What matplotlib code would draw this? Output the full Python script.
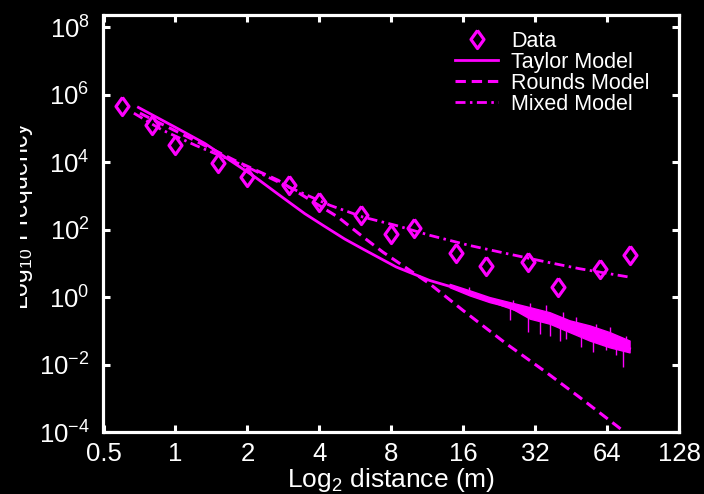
import numpy as np
import matplotlib
matplotlib.use("Agg")
import matplotlib.pyplot as plt
from matplotlib.patches import Rectangle

# ---------------- data ----------------
data_x = [0.6, 0.8, 1, 1.5, 2, 3, 4, 6, 8, 10, 15, 20, 30, 40, 60, 80]
data_logy = [5.66, 5.09, 4.50, 3.96, 3.55, 3.31, 2.82, 2.42, 1.86, 2.04,
             1.31, 0.91, 1.04, 0.29, 0.82, 1.26]

taylor_x = [0.70, 1.0, 1.33, 1.7, 2.15, 2.7, 3.48, 4.2, 5.11, 6.1, 8.4,
            11.6, 16, 23.5, 35.6, 49.1, 79.5]
taylor_logy = [5.62, 5.03, 4.55, 4.04, 3.56, 3.04, 2.47, 2.10, 1.72, 1.42,
               0.89, 0.49, 0.20, -0.25, -0.69, -0.99, -1.53]

# noisy tail of the Taylor model: dense core band
tail_x = [14.05, 17.0, 20.6, 25.0, 30.4, 36.8, 44.6, 54.1, 65.6, 79.5]
tail_upper = [0.39, 0.20, 0.00, -0.15, -0.30, -0.45, -0.69, -0.84, -1.04, -1.29]
tail_lower = [0.29, 0.05, -0.15, -0.30, -0.64, -0.79, -1.04, -1.29, -1.49, -1.64]

# individual spikes of the noisy tail (x, low end, high end)
spike_x = [17.0, 25.0, 25.8, 29.9, 30.4, 33.4, 35.6, 36.8, 40.5, 41.8,
           43.2, 47.6, 49.9, 55.8, 57.7, 63.5, 65.6, 70.0, 74.5, 77.0]
spike_lo = [0.10, -0.69, -0.25, -1.04, -0.40, -1.09, -0.55, -1.14, -1.29,
            -0.75, -1.24, -0.90, -1.49, -1.64, -1.10, -1.58, -1.20, -1.73,
            -2.08, -1.45]
spike_hi = [0.31, -0.20, -0.10, -0.45, -0.18, -0.55, -0.25, -0.60, -0.70,
            -0.45, -0.75, -0.60, -0.95, -1.05, -0.79, -1.20, -0.89, -1.30,
            -1.40, -1.14]

rounds_x = [0.71, 1.83, 2.69, 4.79, 6.10, 7.39, 11.6, 16, 24.3, 35.6, 49.1,
            70, 80]
rounds_logy = [5.45, 4.00, 3.46, 2.37, 1.78, 1.33, 0.39, -0.40, -1.39,
               -2.23, -2.97, -3.81, -4.13]

mixed_x = [0.67, 0.875, 1.21, 2.0, 3.0, 4.43, 6.1, 8.41, 11.6, 17, 24.3,
           35.6, 49.1, 79.5]
mixed_logy = [5.45, 4.96, 4.50, 3.85, 3.25, 2.72, 2.37, 2.12, 1.83, 1.53,
              1.29, 1.04, 0.84, 0.59]

xticks = [0.5, 1, 2, 4, 8, 16, 32, 64, 128]
xticklabels = ["0.5", "1", "2", "4", "8", "16", "32", "64", "128"]
yexps = [-4, -2, 0, 2, 4, 6, 8]

# ---------------- style ----------------
plt.rcParams['font.family'] = ['Liberation Sans', 'DejaVu Sans']
plt.rcParams['mathtext.fontset'] = 'custom'
plt.rcParams['mathtext.rm'] = 'Liberation Sans'
plt.rcParams['mathtext.it'] = 'Liberation Sans:italic'
plt.rcParams['mathtext.bf'] = 'Liberation Sans:bold'

MAG = '#FF00FF'
W, H = 704, 494
fig = plt.figure(figsize=(W / 100, H / 100), dpi=100, facecolor='black')
ax = fig.add_axes([103.5 / W, 1 - 432 / H, (679 - 103.5) / W, (432 - 15) / H])
ax.set_facecolor('black')

p = lambda a: 10 ** np.asarray(a, dtype=float)

diamond = [(0, 1), (0.72, 0), (0, -1), (-0.72, 0), (0, 1)]
ax.plot(data_x, p(data_logy), linestyle='none', marker=diamond,
        markersize=13, mfc='none', mec=MAG, mew=2.3, label='Data')
ax.plot(taylor_x, p(taylor_logy), color=MAG, lw=2.0, label='Taylor Model')
ax.fill_between(tail_x, p(tail_lower), p(tail_upper), color=MAG, lw=1.0,
                edgecolor=MAG)
ax.vlines(spike_x, p(spike_lo), p(spike_hi), color=MAG, lw=1.0)
ax.plot(rounds_x, p(rounds_logy), color=MAG, lw=2.2,
        linestyle=(0, (3.4, 1.9)), label='Rounds Model')
ax.plot(mixed_x, p(mixed_logy), color=MAG, lw=2.0,
        linestyle=(0, (3.6, 1.6, 0.9, 1.6)), label='Mixed Model')

ax.set_xscale('log', base=2)
ax.set_yscale('log', base=10)
ax.set_xlim(0.5, 128)
ax.set_ylim(1e-4, 10 ** 8.36)
ax.set_xticks(xticks)
ax.set_xticklabels(xticklabels)
ax.set_yticks([10.0 ** e for e in yexps])
ax.set_yticklabels([r'$10^{%d}$' % e for e in yexps])
ax.minorticks_off()

for s in ax.spines.values():
    s.set_color('white')
    s.set_linewidth(2.3)
ax.tick_params(which='both', direction='in', length=5, width=2.2,
               colors='white', top=True, right=True, labelsize=18.5)
ax.tick_params(axis='x', pad=7)
ax.tick_params(axis='y', pad=10)

ax.set_xlabel(r'Log$_2$ distance (m)', color='white', fontsize=19,
              labelpad=0)

# y label: only its lower half is visible in the reference
fig.text(28 / W, 1 - 215 / H, r'Log$_{10}$ Frequency', color='white',
         fontsize=18, rotation=90, rotation_mode='anchor',
         ha='center', va='baseline')
fig.add_artist(Rectangle((0, 0), 20 / W, 1, transform=fig.transFigure,
                         facecolor='black', edgecolor='none', zorder=50))

ax_w = 679 - 103.5
ax_h = 432 - 15
leg = ax.legend(loc='upper left', frameon=False, fontsize=15.5,
                handlelength=2.0, handletextpad=0.6, labelspacing=0.0,
                borderpad=0.0, borderaxespad=0.0,
                bbox_to_anchor=((455 - 103.5) / ax_w, (432 - 31) / ax_h))
for t in leg.get_texts():
    t.set_color('white')

fig.savefig('out.png', dpi=100, facecolor='black')
